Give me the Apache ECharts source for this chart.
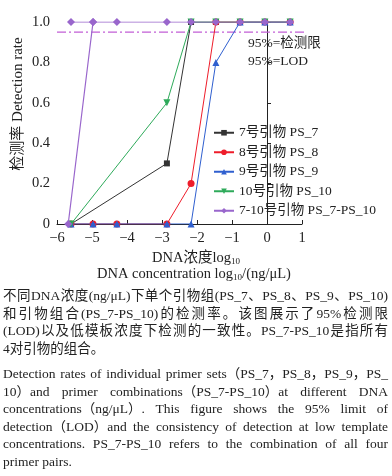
<!DOCTYPE html>
<html>
<head>
<meta charset="utf-8">
<script src="https://cdn.jsdelivr.net/npm/echarts@6/dist/echarts.min.js"></script>
<style>
html,body{margin:0;padding:0;background:#fff;}
#wrap{position:relative;width:392px;height:476px;overflow:hidden;}
#chart{position:absolute;left:0;top:0;width:392px;height:476px;}
.ln{position:absolute;left:3px;height:17.5px;line-height:17.5px;white-space:nowrap;color:#222;
 font-family:'Liberation Serif','Noto Sans CJK SC',serif;}
.cn{font-size:13.5px;width:385px;}
.cn.j{text-align:justify;text-align-last:justify;}
.en{font-size:13.5px;}
</style>
</head>
<body>
<div id="wrap">
<div id="chart"></div>
</div>
<script>
// ---- data ----
var xVals = [-5.6, -4.97, -4.29, -2.86, -2.17, -1.46, -0.77, -0.06, 0.66];
var ps7  = [0, null, null, 0.3, 1, 1, 1, 1, 1];
var ps8  = [0, 0, 0, 0, 0.2, 1, 1, 1, 1];
var ps9  = [0, 0, 0, 0, 0, 0.8, 1, 1, 1];
var ps10 = [0, null, null, 0.6, 1, 1, 1, 1, 1];
var comboX = [-5.68, -4.97, -5.6, -4.97, -4.29, -2.86, -2.17, -1.46, -0.77, -0.06, 0.66];
var comboY = [0, 1, 1, 1, 1, 1, 1, 1, 1, 1, 1];
var lodX = [-6, 1.9];
var lodY = [0.95, 0.95];
var seriesNames = ['7号引物 PS_7', '8号引物 PS_8', '9号引物 PS_9', '10号引物 PS_10', '7-10号引物 PS_7-PS_10'];
var xTicks = {min: -6, max: 1, interval: 1};
var yTicks = {min: 0, max: 1, interval: 0.2};
var captionCN = [
 '不同DNA浓度(ng/μL)下单个引物组(PS_7、PS_8、PS_9、PS_10)',
 '和引物组合(PS_7-PS_10)的检测率。该图展示了95%检测限',
 '(LOD)以及低模板浓度下检测的一致性。PS_7-PS_10是指所有',
 '4对引物的组合。'
];
var captionEN = [
 'Detection rates of individual primer sets（PS_7，PS_8，PS_9，PS_',
 '10）and primer combinations（PS_7-PS_10）at different DNA',
 'concentrations（ng/μL）. This figure shows the 95% limit of',
 'detection（LOD）and the consistency of detection at low template',
 'concentrations. PS_7-PS_10 refers to the combination of all four',
 'primer pairs.'
];

// ---- caption ----
var wrap = document.getElementById('wrap');
var LINE_W = 385;
function addLines(arr, cls, top0, step, manual) {
  arr.forEach(function (t, i) {
    var d = document.createElement('div');
    var last = i === arr.length - 1;
    d.className = 'ln ' + cls + (!last ? ' j' : '');
    d.style.top = (top0 + i * step) + 'px';
    d.textContent = t;
    wrap.appendChild(d);
    if (manual && !last) {
      var w = d.getBoundingClientRect().width;
      var n = (t.match(/ /g) || []).length;
      if (n > 0) d.style.wordSpacing = ((LINE_W - w) / n) + 'px';
    }
  });
}
addLines(captionCN, 'cn', 287, 17.5, false);
addLines(captionEN, 'en', 365, 17.5, true);

// ---- chart ----
var FONT = "'Liberation Serif','Noto Sans CJK SC',serif";
function pairs(xs, ys) { return xs.map(function (x, i) { return [x, ys[i]]; }); }
var colors = ['#333333', '#ee1c2a', '#2f5fcf', '#2eaa5a', '#9966cc'];
var symbols = ['rect', 'circle', 'triangle', 'path://M0,0 L10,0 L5,10 Z', 'diamond'];
var sizes = [6, 7, 7, 7, 8];
var ys = [ps7, ps8, ps9, ps10];
var series = [];
ys.forEach(function (arr, i) {
  series.push({
    name: seriesNames[i], type: 'line', data: pairs(xVals, arr), connectNulls: true,
    symbol: symbols[i], symbolSize: sizes[i], showAllSymbol: true,
    itemStyle: {color: colors[i]}, lineStyle: {color: colors[i], width: 1}, z: 2 + i
  });
});
series.push({
  name: seriesNames[4], type: 'line', data: pairs(comboX, comboY),
  symbol: symbols[4], symbolSize: sizes[4], showAllSymbol: true,
  itemStyle: {color: colors[4]}, lineStyle: {color: colors[4], width: 1.2}, z: 8
});
series.push({
  name: 'LOD', type: 'line', data: pairs(lodX, lodY), symbol: 'none', clip: false,
  lineStyle: {color: '#c25fd6', width: 1.2, type: [9, 3, 2, 3]}, z: 1, silent: true
});

var chart = echarts.init(document.getElementById('chart'), null, {renderer: 'canvas'});
chart.setOption({
  animation: false,
  backgroundColor: 'transparent',
  grid: {left: 57, right: 90, top: 22, bottom: 252},
  xAxis: {
    type: 'value', min: xTicks.min, max: xTicks.max, interval: xTicks.interval,
    splitLine: {show: false},
    axisLine: {onZero: false, lineStyle: {color: '#222', width: 1}},
    axisTick: {inside: true, length: 4, lineStyle: {color: '#222'}},
    axisLabel: {margin: 7, color: '#222', fontSize: 14.5, fontFamily: FONT,
      formatter: function (v) { return v < 0 ? '\u2212' + Math.abs(v) : String(v); }}
  },
  yAxis: {
    type: 'value', min: yTicks.min, max: yTicks.max, interval: yTicks.interval,
    splitLine: {show: false},
    axisLine: {show: true, lineStyle: {color: '#222', width: 1}},
    axisTick: {show: true, inside: true, length: 4, lineStyle: {color: '#222'}},
    axisLabel: {margin: 7, color: '#222', fontSize: 14.5, fontFamily: FONT,
      formatter: function (v) { return v === 0 ? '0' : v.toFixed(1); }}
  },
  legend: {
    orient: 'vertical', left: 213, top: 126, padding: 0, itemWidth: 20, itemHeight: 7, itemGap: 6,
    data: seriesNames,
    textStyle: {color: '#222', fontSize: 13.5, fontFamily: FONT}
  },
  series: series,
  graphic: [
    {type: 'text', left: 248, top: 37, style: {text: '95%=检测限', font: '13.5px ' + FONT, fill: '#222'}},
    {type: 'text', left: 248, top: 55, style: {text: '95%=LOD', font: '13.5px ' + FONT, fill: '#222'}},
    {type: 'text', x: 18, y: 104, rotation: Math.PI / 2,
      style: {text: '检测率 Detection rate', font: '15px ' + FONT, fill: '#222', align: 'center', verticalAlign: 'middle'}},
    {type: 'text', x: 152, y: 258,
      style: {text: '{a|DNA浓度log}{s|10}', verticalAlign: 'middle', align: 'left',
        rich: {a: {font: '14.5px ' + FONT, fill: '#222'}, s: {font: '9px ' + FONT, fill: '#222', padding: [7, 0, 0, 0]}}}},
    {type: 'text', x: 97, y: 274,
      style: {text: '{a|DNA concentration log}{s|10}{a|/(ng/μL)}', verticalAlign: 'middle', align: 'left',
        rich: {a: {font: '14.5px ' + FONT, fill: '#222'}, s: {font: '9px ' + FONT, fill: '#222', padding: [7, 0, 0, 0]}}}}
  ]
});
</script>
</body>
</html>
